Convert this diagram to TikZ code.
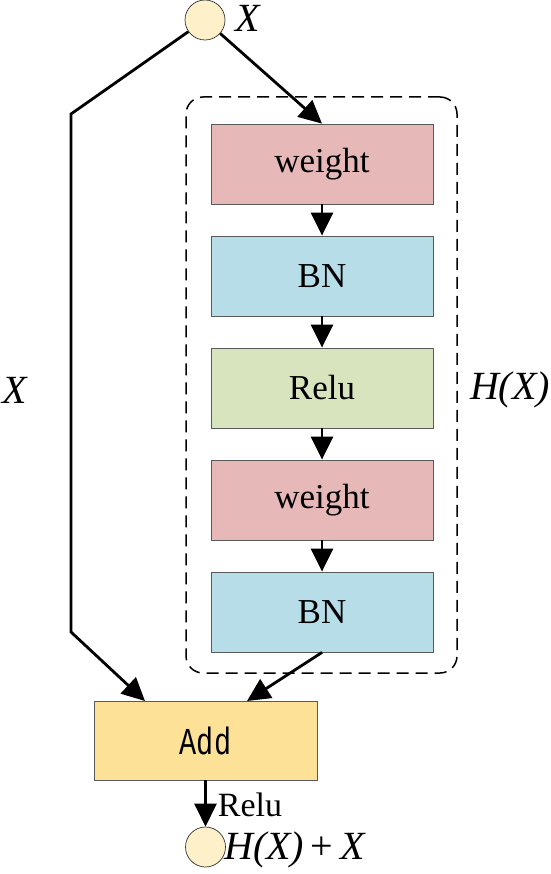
\documentclass[tikz,border=0pt]{standalone}
\usepackage{fontspec}
\setmainfont{Liberation Serif}
\newfontfamily\addfont{Liberation Mono}[FakeStretch=0.75]
\usetikzlibrary{arrows.meta}
\definecolor{wcol}{HTML}{E6B9B8}
\definecolor{bcol}{HTML}{B7DDE8}
\definecolor{rcol}{HTML}{D7E4BD}
\definecolor{acol}{HTML}{FDE196}
\definecolor{circ}{HTML}{FEF0C9}
\definecolor{boxline}{HTML}{595959}
\begin{document}
\begin{tikzpicture}[x=1pt,y=-1pt,
  blk/.style={draw=boxline, line width=0.8pt, minimum width=222pt, minimum height=80pt, inner sep=0pt, font=\fontsize{35}{40}\selectfont},
  conn/.style={line width=2.8pt, -{Triangle[length=23pt,width=22pt]}},
  io/.style={circle, draw=black!80, line width=0.7pt, fill=circ, minimum size=40pt, inner sep=0pt},
  lab/.style={inner sep=0pt, font=\fontsize{40}{44}\selectfont\itshape},
  hbox/.style={draw, dashed, dash pattern=on 12pt off 7pt, line width=1.5pt, rounded corners=17pt, inner sep=0pt}]
\useasboundingbox (0,0) rectangle (550,874);
% dashed group
\node[hbox, minimum width=271pt, minimum height=576pt] (hb) at (321.5,385) {};
% blocks
\node[blk, fill=wcol] (w1) at (322,164) {weight};
\node[blk, fill=bcol] (b1) at (322,276) {BN};
\node[blk, fill=rcol] (r1) at (322,388) {Relu};
\node[blk, fill=wcol] (w2) at (322,500) {weight};
\node[blk, fill=bcol] (b2) at (322,612) {BN};
\node[blk, fill=acol, minimum width=223pt, minimum height=79pt, font=\addfont\fontsize{38}{40}\selectfont] (add) at (205.5,740.5) {Add};
% circles
\node[io] (c1) at (205,20) {};
\node[io] (c2) at (205.5,847) {};
% labels
\node[lab] (xtop) at (248,18) {X};
\node[lab] (xleft) at (15,390) {X};
\node[lab] (hx) at (510,390) {H(X)};
\node[inner sep=0pt, font=\fontsize{34}{40}\selectfont] (relu2) at (250,805) {Relu};
\node[inner sep=0pt, font=\fontsize{40}{44}\selectfont] (hxx) at (295,850) {\textit{H(X)}\,+\,\textit{X}};
% path coordinates
\coordinate (l1) at (71,114);
\coordinate (l2) at (71,632);
\coordinate (a1) at (145,701);
\coordinate (a2) at (247,701);
% connectors
\draw[conn] (c1) -- (l1) -- (l2) -- (a1);
\draw[conn] (c1) -- (w1.north);
\draw[conn] (w1.south) -- (b1.north);
\draw[conn] (b1.south) -- (r1.north);
\draw[conn] (r1.south) -- (w2.north);
\draw[conn] (w2.south) -- (b2.north);
\draw[conn] (b2.south) -- (a2);
\draw[conn] (add.south) -- (c2);
\end{tikzpicture}
\end{document}
